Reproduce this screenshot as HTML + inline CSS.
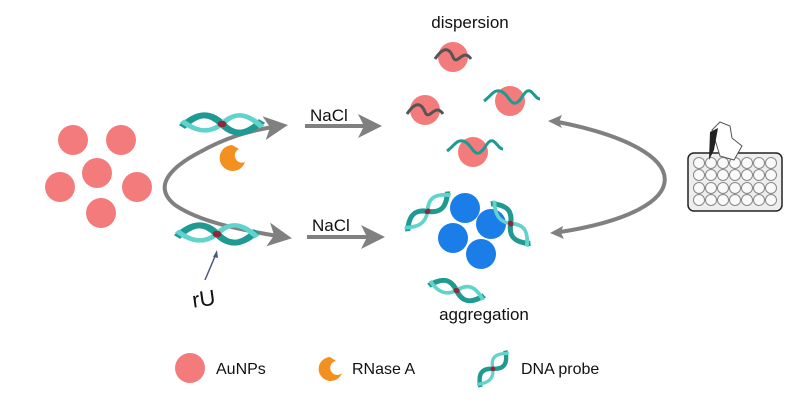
<!DOCTYPE html>
<html><head><style>body{margin:0;background:#fff}svg{display:block}text{font-family:"Liberation Sans",sans-serif;fill:#111}</style></head><body>
<svg width="800" height="411" viewBox="0 0 800 411">
<defs>
<marker id="ah" markerWidth="6" markerHeight="6" refX="4" refY="3" orient="auto" markerUnits="strokeWidth"><path d="M0,0 L6,3 L0,6 L1.5,3z" fill="#808080"/></marker>
<g id="dna"><path d="M0,10 C8,0 14,0 20,8 C26,16 32,16 40,6" stroke="#1f9a92" stroke-width="4" fill="none"/><path d="M0,6 C8,14 14,14 20,8 C26,0 32,0 40,10" stroke="#5fd3cc" stroke-width="3" fill="none"/><circle cx="20" cy="8" r="2.2" fill="#8b2a3a"/></g>
<g id="wave"><path d="M-18,4 C-10,-8 -4,-8 0,2 C4,12 10,-8 18,4" stroke="#555" stroke-width="3" fill="none"/></g>
</defs>
<g fill="#f47b7b">
<circle cx="73" cy="140" r="15"/><circle cx="121" cy="140" r="15"/><circle cx="97" cy="173" r="15"/><circle cx="60" cy="187" r="15"/><circle cx="137" cy="187" r="15"/><circle cx="101" cy="213" r="15"/>
</g>
<path d="M200,152 C175,165 150,185 175,205 C200,222 240,230 284,237" stroke="#808080" stroke-width="4" fill="none" marker-end="url(#ah)"/>
<path d="M200,152 C225,138 250,130 280,126" stroke="#808080" stroke-width="4" fill="none" marker-end="url(#ah)"/>
<use href="#dna" transform="translate(182,112) scale(2,1.5)"/>
<use href="#dna" transform="translate(177,222) scale(2,1.5)"/>
<path d="M232,145 a13,13 0 1 0 13,17 a7,7 0 1 1 -6,-13z" fill="#f39020"/>
<text x="192" y="306" font-size="22" transform="rotate(-8 205 298)">rU</text>
<line x1="205" y1="280" x2="216" y2="254" stroke="#4a5a7a" stroke-width="1.5"/>
<path d="M217,250 l-4,7 l5,1z" fill="#4a5a7a"/>
<line x1="305" y1="126" x2="374" y2="126" stroke="#808080" stroke-width="4" marker-end="url(#ah)"/>
<line x1="307" y1="237" x2="377" y2="237" stroke="#808080" stroke-width="4" marker-end="url(#ah)"/>
<text x="310" y="121" font-size="17">NaCl</text>
<text x="312" y="231" font-size="17">NaCl</text>
<text x="470" y="28" font-size="17" text-anchor="middle">dispersion</text>
<g fill="#f47b7b"><circle cx="453" cy="57" r="15"/><circle cx="425" cy="110" r="15"/><circle cx="510" cy="101" r="15"/><circle cx="473" cy="152" r="15"/></g>
<use href="#wave" transform="translate(453,55)"/><use href="#wave" transform="translate(425,110)"/>
<g transform="translate(510,97)"><path d="M-26,4 C-20,0 -16,-8 -10,-6 C-2,-4 0,8 6,6 C12,4 14,-8 20,-6 C24,-4 26,2 30,2" stroke="#1f9a92" stroke-width="3" fill="none"/></g>
<g transform="translate(473,147)"><path d="M-26,4 C-20,0 -16,-8 -10,-6 C-2,-4 0,8 6,6 C12,4 14,-8 20,-6 C24,-4 26,2 30,2" stroke="#1f9a92" stroke-width="3" fill="none"/></g>
<g fill="#1a7de8"><circle cx="465" cy="208" r="15"/><circle cx="491" cy="224" r="15"/><circle cx="453" cy="238" r="15"/><circle cx="481" cy="254" r="15"/></g>
<use href="#dna" transform="translate(400,222) rotate(-40) scale(1.4,1.2)"/>
<use href="#dna" transform="translate(500,196) rotate(50) scale(1.4,1.2)"/>
<use href="#dna" transform="translate(432,274) rotate(15) scale(1.4,1.2)"/>
<text x="484" y="320" font-size="17" text-anchor="middle">aggregation</text>
<path d="M558,122 C700,150 700,210 560,232" stroke="#808080" stroke-width="4" fill="none"/>
<path d="M548,121 l14,-6 l-3,7 l3,6z" fill="#808080"/><path d="M550,233 l13,-7 l-2,7 l3,6z" fill="#808080"/>
<rect x="688" y="153" width="94" height="58" rx="6" fill="#eee" stroke="#222" stroke-width="1.5"/>
<g fill="#fafafa" stroke="#888" stroke-width="1">
<circle cx="699" cy="163" r="5.5"/><circle cx="711" cy="163" r="5.5"/><circle cx="723" cy="163" r="5.5"/><circle cx="735" cy="163" r="5.5"/><circle cx="747" cy="163" r="5.5"/><circle cx="759" cy="163" r="5.5"/><circle cx="771" cy="163" r="5.5"/>
<circle cx="699" cy="175" r="5.5"/><circle cx="711" cy="175" r="5.5"/><circle cx="723" cy="175" r="5.5"/><circle cx="735" cy="175" r="5.5"/><circle cx="747" cy="175" r="5.5"/><circle cx="759" cy="175" r="5.5"/><circle cx="771" cy="175" r="5.5"/>
<circle cx="699" cy="188" r="5.5"/><circle cx="711" cy="188" r="5.5"/><circle cx="723" cy="188" r="5.5"/><circle cx="735" cy="188" r="5.5"/><circle cx="747" cy="188" r="5.5"/><circle cx="759" cy="188" r="5.5"/><circle cx="771" cy="188" r="5.5"/>
<circle cx="699" cy="200" r="5.5"/><circle cx="711" cy="200" r="5.5"/><circle cx="723" cy="200" r="5.5"/><circle cx="735" cy="200" r="5.5"/><circle cx="747" cy="200" r="5.5"/><circle cx="759" cy="200" r="5.5"/><circle cx="771" cy="200" r="5.5"/>
</g>
<path d="M712,130 l8,-8 l10,4 l2,12 l10,8 l-8,14 l-14,-4z" fill="#fff" stroke="#555"/>
<path d="M710,132 l8,-4 l-4,22 l-5,10z" fill="#222"/>
<circle cx="190" cy="368" r="15" fill="#f47b7b"/>
<text x="216" y="374" font-size="16">AuNPs</text>
<path d="M330,357 a12,12 0 1 0 12,16 a7,7 0 1 1 -6,-12z" fill="#f39020"/>
<text x="352" y="374" font-size="16">RNase A</text>
<use href="#dna" transform="translate(472,380) rotate(-50) scale(1.1)"/>
<text x="521" y="374" font-size="16">DNA probe</text>
</svg>
</body></html>
